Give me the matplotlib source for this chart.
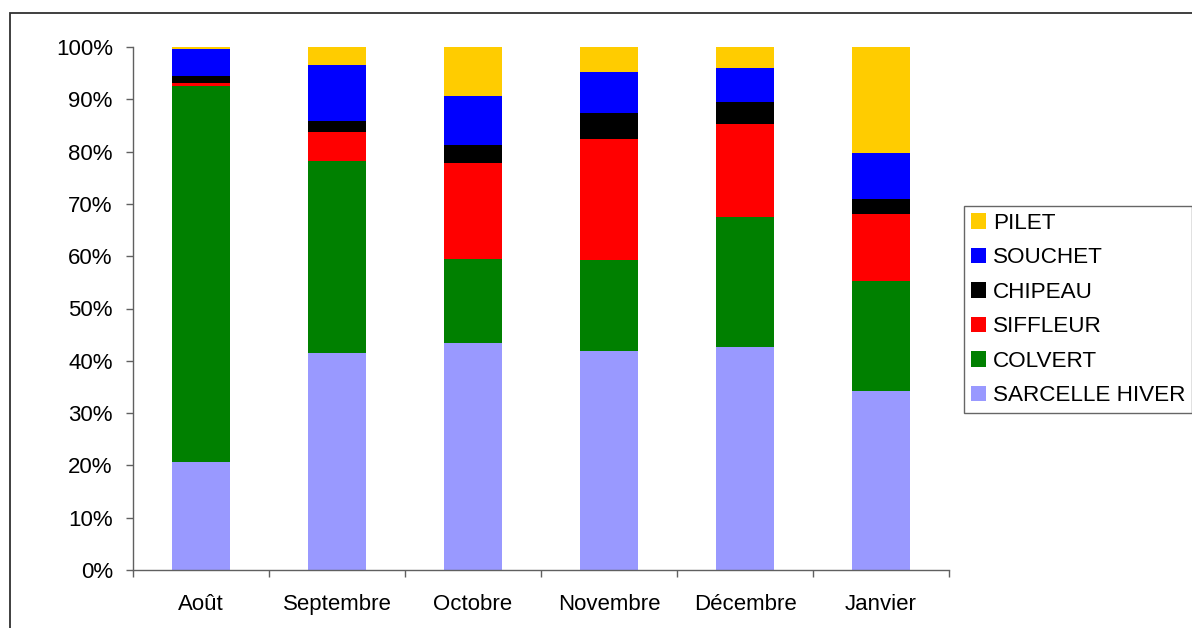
import matplotlib
matplotlib.use("Agg")
import matplotlib.pyplot as plt
from matplotlib.patches import Rectangle, Patch
import numpy as np

# Monthly share of each duck species (%)
months = ["Août", "Septembre", "Octobre", "Novembre", "Décembre", "Janvier"]
species = ["SARCELLE HIVER", "COLVERT", "SIFFLEUR", "CHIPEAU", "SOUCHET", "PILET"]
sarcelle_hiver = [20.7, 41.5, 43.4, 41.9, 42.6, 34.2]
colvert = [71.8, 36.7, 16.1, 17.4, 24.9, 21.1]
siffleur = [0.6, 5.5, 18.3, 23.1, 17.8, 12.8]
chipeau = [1.4, 2.2, 3.5, 5.0, 4.2, 2.8]
souchet = [5.1, 10.7, 9.4, 7.8, 6.5, 8.8]
pilet = [0.4, 3.4, 9.3, 4.8, 4.0, 20.3]
yticks = [0, 10, 20, 30, 40, 50, 60, 70, 80, 90, 100]

series = [sarcelle_hiver, colvert, siffleur, chipeau, souchet, pilet]
colors = ["#9999FF", "#008000", "#FF0000", "#000000", "#0000FF", "#FFCC00"]

plt.rcParams["font.family"] = ["Liberation Sans", "DejaVu Sans"]

W, H = 1192, 628
fig = plt.figure(figsize=(W / 100, H / 100), dpi=100)
fig.patch.set_facecolor("white")

# outer chart-area frame
fig.patches.append(Rectangle((10 / W, -0.1), 1.2, 1.1 - 13 / H,
                             transform=fig.transFigure, fill=False,
                             edgecolor="#303030", linewidth=1.3))

ax = fig.add_axes([133 / W, 1 - 570 / H, (949 - 133) / W, (570 - 47) / H])

x = np.arange(len(months))
bottom = np.zeros(len(months))
for vals, col, name in zip(series, colors, species):
    vals = np.array(vals, dtype=float)
    ax.bar(x, vals, width=0.42, bottom=bottom, color=col, label=name,
           linewidth=0, zorder=2)
    bottom += vals

ax.set_xlim(-0.5, len(months) - 0.5)
ax.set_ylim(0, 100)
ax.set_yticks(yticks)
ax.set_yticklabels([f"{v}%" for v in yticks])
ax.set_xticks(x)
ax.set_xticklabels(months)
ax.set_xticks(np.arange(len(months) + 1) - 0.5, minor=True)

for s in ["top", "right"]:
    ax.spines[s].set_visible(False)
for s in ["left", "bottom"]:
    ax.spines[s].set_color("#606060")
    ax.spines[s].set_linewidth(1.0)

ax.tick_params(axis="y", direction="out", length=5, width=1.0, color="#606060",
               pad=9.5, labelsize=16, labelcolor="black")
ax.tick_params(axis="x", which="major", length=0, pad=17, labelsize=16,
               labelcolor="black")
ax.tick_params(axis="x", which="minor", direction="out", length=5, width=1.0,
               color="#606060")

handles = [Patch(facecolor=c, edgecolor="none", label=n)
           for c, n in zip(colors, species)][::-1]
leg = fig.legend(handles=handles, loc="upper left",
                 bbox_to_anchor=(964 / W, 1 - 206 / H),
                 bbox_transform=fig.transFigure,
                 fontsize=16.2, frameon=True, fancybox=False, shadow=False,
                 handlelength=0.68, handleheight=0.68, handletextpad=0.3,
                 labelspacing=0.6, borderpad=0.3, borderaxespad=0)
leg.get_frame().set_edgecolor("#404040")
leg.get_frame().set_linewidth(1.0)

fig.savefig("out.png", dpi=100, facecolor="white")
